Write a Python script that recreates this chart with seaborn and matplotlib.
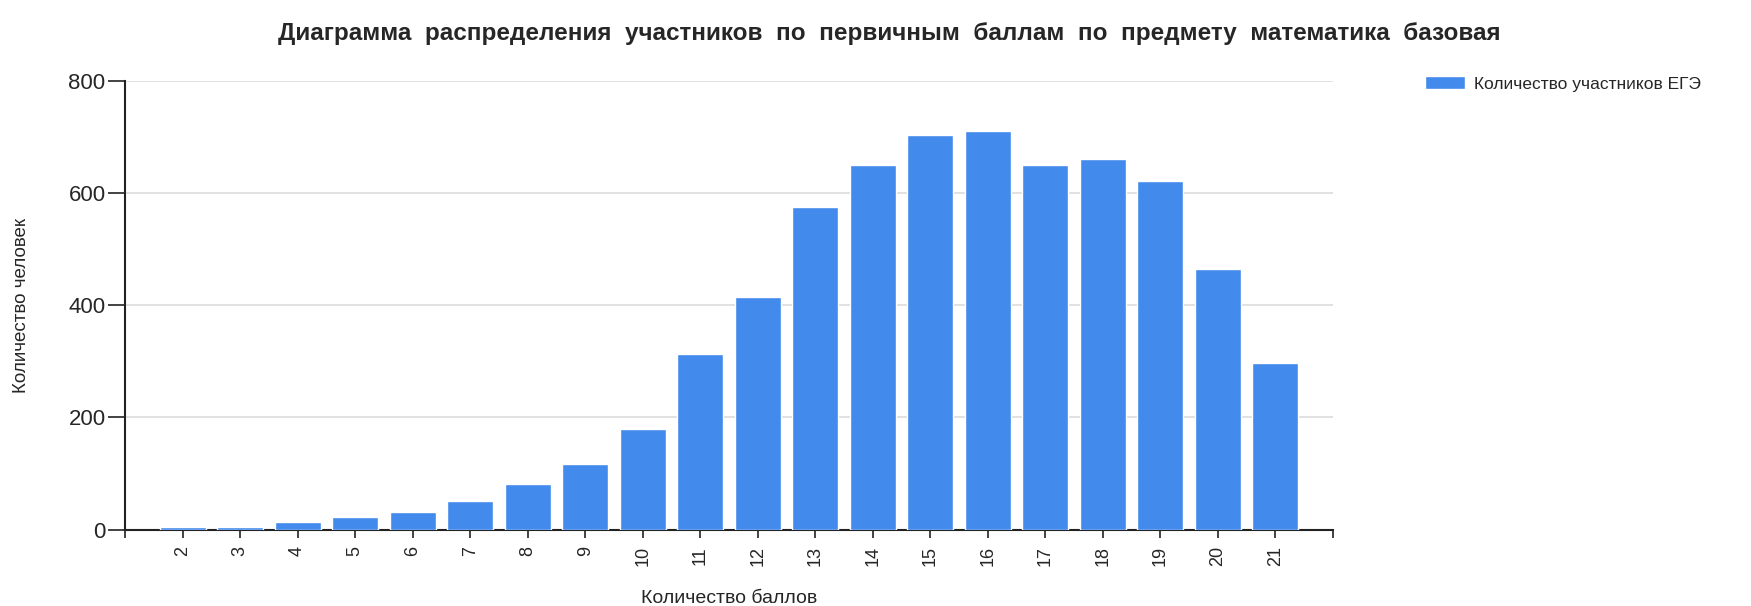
import matplotlib
matplotlib.use("Agg")
import matplotlib.pyplot as plt
import pandas as pd
import seaborn as sns
from matplotlib import font_manager

# ---------------------------------------------------------------------------
# Data
# ---------------------------------------------------------------------------
scores = ["2", "3", "4", "5", "6", "7", "8", "9", "10", "11",
          "12", "13", "14", "15", "16", "17", "18", "19", "20", "21"]
counts = [4, 4, 14, 22, 31, 51, 81, 117, 180, 313,
          415, 575, 651, 704, 710, 651, 660, 621, 465, 297]
y_ticks = [0, 200, 400, 600, 800]

TITLE = "Диаграмма  распределения  участников  по  первичным  баллам  по  предмету  математика  базовая"
SERIES = "Количество участников ЕГЭ"
X_LABEL = "Количество баллов"
Y_LABEL = "Количество человек"

BAR_COLOR = "#428AEC"
GRID_COLOR = "#DCDCDC"
AXIS_COLOR = "#222222"

sns.set_style("white")
try:
    font_manager.findfont("Liberation Sans Narrow", fallback_to_default=False)
    plt.rcParams["font.family"] = ["Liberation Sans Narrow", "Liberation Sans", "DejaVu Sans"]
except ValueError:
    plt.rcParams["font.family"] = ["Liberation Sans", "DejaVu Sans"]

df = pd.DataFrame({"score": scores, "count": counts})

fig = plt.figure(figsize=(17.51, 6.06), dpi=100)
ax = fig.add_axes([125 / 1751, 1 - 529.5 / 606, (1333 - 125) / 1751, (529.5 - 81) / 606])

sns.barplot(data=df, x="score", y="count", color=BAR_COLOR, width=0.8,
            saturation=1, label=SERIES, ax=ax, zorder=3)
handles, labels = ax.get_legend_handles_labels()
if ax.get_legend() is not None:
    ax.get_legend().remove()

ax.set_ylim(0, 800)
ax.set_yticks(y_ticks)
ax.set_yticklabels([str(v) for v in y_ticks], fontsize=16)
ax.yaxis.grid(True, color=GRID_COLOR, linewidth=1.2, zorder=0)
ax.set_axisbelow(True)

# one empty slot on either side of the categories, with ticks at the ends
ax.set_xlim(-1, len(scores))
ax.set_xticks(range(-1, len(scores) + 1))
ax.set_xticklabels([""] + scores + [""], rotation=90, fontsize=13)
ax.tick_params(axis="x", bottom=True, direction="out", length=6, width=1.2,
               color=AXIS_COLOR, pad=6)
ax.tick_params(axis="y", left=True, direction="out", length=12, width=1.2,
               color=AXIS_COLOR, pad=2)

for side in ("top", "right"):
    ax.spines[side].set_visible(False)
for side in ("left", "bottom"):
    ax.spines[side].set_color(AXIS_COLOR)
    ax.spines[side].set_linewidth(1.5)

ax.set_xlabel(X_LABEL, fontsize=14)
ax.xaxis.set_label_coords(0.5, -(590 - 529.5) / 448.5)
ax.set_ylabel(Y_LABEL, fontsize=13.5)
ax.yaxis.set_label_coords(-(125 - 30) / 1208, 0.5)

fig.text(0.508, 0.945, TITLE, ha="center", va="center",
         fontsize=17.5, fontweight="bold")

fig.legend(handles, labels, loc="upper left", bbox_to_anchor=(1425 / 1751, 1 - 76 / 606),
           frameon=False, fontsize=12.5, handlelength=2.3, handleheight=0.8,
           handletextpad=0.5, borderpad=0, borderaxespad=0)

fig.savefig("out.png", dpi=100, facecolor="white")
plt.close(fig)
